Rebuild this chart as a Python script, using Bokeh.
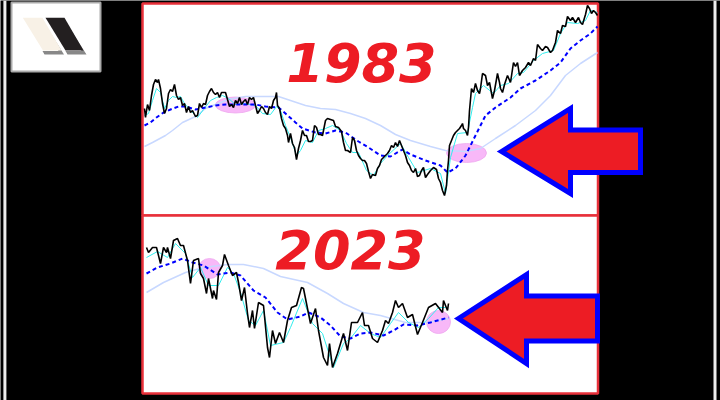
from bokeh.plotting import figure
from bokeh.embed import file_html
from bokeh.resources import INLINE
from bokeh.core.properties import value

# top panel series
top_price_x = [144,145,147,149,151,153,155,157,158,160,162,164,166,168,170,172,174,176,178,180,182,184,186,188,190,192,195,197,199,201,203,205,207,209,211,213,215,217,219,221,223,225,227,229,231,233,235,237,239,241,243,245,247,249,251,253,255,257,259,261,263,265,267,269,271,273,275,276,277,279,281,283,285,287,288,290,292,294,296,298,300,302,304,306,308,310,312,314,316,318,320,322,325,327,330,333,335,338,341,343,345,347,350,352,354,356,358,360,362,364,366,368,370,372,375,377,379,381,383,385,387,389,391,393,395,397,399,401,403,405,407,409,411,413,415,417,419,421,423,425,427,430,433,436,438,440,442,444,446,447,448,449,451,453,455,457,459,461,462,463,465,467,468,469,471,473,475,477,479,480,482,485,487,489,492,494,497,499,500,502,504,507,510,513,515,517,519,522,525,528,530,533,535,537,540,542,545,547,550,552,555,557,560,562,565,567,570,572,575,578,580,582,585,587,589,591,593,595,597]
top_price_y = [108,117,104,110,95,84,79,82,79,88,103,113,108,93,89,91,84,95,99,97,105,103,112,106,112,110,116,115,103,107,103,104,95,91,88,92,94,92,97,92,92,92,99,106,104,107,100,103,97,104,101,99,104,97,99,97,105,113,110,106,108,112,114,106,108,100,97,92,105,108,118,125,128,135,142,133,143,147,159,148,140,130,135,135,141,141,140,125,127,134,134,135,120,118,119,120,126,127,131,142,150,150,152,137,140,150,155,158,160,160,163,171,178,174,175,168,165,159,157,155,153,150,145,147,142,146,140,145,150,155,162,165,170,172,168,176,175,170,167,177,174,170,167,169,178,182,190,195,185,170,160,145,140,135,132,130,128,125,123,128,130,135,127,110,88,92,83,90,93,88,73,75,85,82,98,90,73,82,88,92,84,75,82,62,66,62,75,70,67,62,65,58,60,44,48,50,46,47,52,50,42,30,33,25,26,16,20,17,22,17,22,24,14,5,8,13,10,12,15]
top_fast_x = [144,148,152,156,160,164,168,172,176,180,184,190,197,203,210,216,222,228,235,245,255,262,270,276,280,285,290,296,300,305,312,318,325,332,340,346,352,358,366,373,380,387,400,408,417,430,440,445,450,457,467,472,475,483,493,500,508,517,523,533,542,553,560,567,577,585,590,597]
top_fast_y = [115,113,100,88,92,108,100,96,97,96,103,110,117,109,100,97,95,98,104,103,105,113,114,106,110,125,137,155,150,140,142,130,128,125,130,143,152,152,170,175,163,155,143,157,172,168,173,193,157,133,132,107,93,85,93,85,83,73,72,60,53,50,33,22,23,20,10,12]
top_mid_x = [144,150,156,163,170,178,185,195,205,215,225,240,255,265,278,285,295,302,315,325,335,345,358,368,380,390,402,410,425,440,447,455,465,475,485,495,510,520,535,550,560,570,580,590,597]
top_mid_y = [125,122,117,112,109,106,106,109,107,105,104,104,104,106,107,113,122,128,132,133,130,132,141,147,155,156,149,154,160,165,172,168,155,135,115,107,97,88,80,70,62,48,40,33,26]
top_slow_x = [144,152,165,172,182,195,205,215,228,245,265,278,290,305,320,335,350,365,380,395,410,430,445,465,480,495,515,535,550,565,580,597]
top_slow_y = [146,142,135,130,122,116,108,104,99,96,96,96,100,105,108,109,113,118,125,134,140,146,150,151,148,138,125,110,95,75,63,52]

# bottom panel series
bot_price_x = [146,148,152,156,160,163,166,167,170,173,177,180,183,187,190,193,198,200,203,206,208,212,213,216,218,222,224,228,232,236,238,241,244,247,249,252,254,258,263,267,269,272,275,279,283,287,291,296,301,303,306,310,315,318,323,327,329,332,337,343,347,351,357,362,364,368,372,377,382,385,388,392,395,398,402,407,412,417,422,428,435,442,443,447,448]
bot_price_y = [247,252,247,247,263,247,252,247,258,240,238,245,245,260,283,260,258,273,278,293,278,298,290,299,272,265,254,265,275,272,282,300,287,313,327,310,328,302,305,347,357,330,343,332,342,320,307,305,287,288,303,323,308,330,357,365,343,367,353,333,350,322,322,312,325,325,338,342,330,320,323,312,300,307,303,317,314,334,322,307,303,312,300,310,303]
bot_fast_x = [146,157,167,175,185,192,200,208,218,227,233,240,248,255,263,270,283,290,302,312,322,333,343,350,360,370,380,390,398,408,418,428,438,445]
bot_fast_y = [257,251,257,243,253,277,267,285,285,267,273,292,320,325,310,345,342,327,298,323,333,367,343,338,325,333,337,323,312,322,327,318,307,307]
bot_mid_x = [146,157,170,182,192,203,217,230,240,253,265,277,287,300,308,320,330,340,350,360,370,383,393,403,417,430,448]
bot_mid_y = [273,267,263,258,262,265,274,272,275,290,297,312,319,316,312,317,325,336,338,333,332,335,330,324,325,322,317]
bot_slow_x = [146,163,185,203,227,243,263,280,307,327,343,363,380,405,427,448]
bot_slow_y = [292,282,272,267,264,264,268,276,282,293,303,312,315,322,322,318]

titles = ["1983", "2023"]

p = figure(width=720, height=400, x_range=(0, 720), y_range=(400, 0),
           output_backend="svg", toolbar_location=None, min_border=0,
           background_fill_color="black", border_fill_color="black",
           outline_line_color=None)
p.xaxis.visible = False
p.yaxis.visible = False
p.grid.visible = False

RED = "#ED1C24"
BLUE = "#0000FF"
BORDER = "#E8303A"

# frame lines
p.segment([4.4, 714.5], [0, 0], [4.4, 714.5], [400, 400], line_color="#EEEEEE", line_width=3)

# logo
p.quad(left=[11], right=[100], top=[2], bottom=[71], fill_color="white", line_color="#AAAAAA", line_width=2)
p.patch([43.5, 63.5, 44, 42, 58], [22, 54, 54, 50.5, 50.5], fill_color="#888888", line_color=None)
p.patch([65, 86, 67, 65, 81], [21, 54, 54, 50.5, 50.5], fill_color="#888888", line_color=None)
p.patch([22.3, 42, 61, 42.5], [17.3, 17.3, 50, 50], fill_color="#F8F1E6", line_color=None)
p.patch([45, 64, 83, 65], [17.3, 17.3, 50, 50], fill_color="#231F20", line_color=None)

# panels
p.quad(left=[142, 142], right=[597.5, 597.5], top=[3, 215], bottom=[215, 393],
       fill_color="white", line_color=BORDER, line_width=2.5)

# highlights
p.ellipse(x=[235, 466, 209, 438], y=[104.5, 152.5, 268, 321.5],
          width=[40, 40, 22, 24], height=[16, 19, 20, 23],
          fill_color="#F8B8F8", line_color="#EFA8EF", line_width=0.8)

# series
for x, y in [(top_slow_x, top_slow_y), (bot_slow_x, bot_slow_y)]:
    p.line(x, y, line_color="#C8D8FF", line_width=1.5)
for x, y in [(top_fast_x, top_fast_y), (bot_fast_x, bot_fast_y)]:
    p.line(x, y, line_color="#30EEEE", line_width=1)
for x, y in [(top_mid_x, top_mid_y), (bot_mid_x, bot_mid_y)]:
    p.line(x, y, line_color=BLUE, line_width=2, line_dash="4 3")
for x, y in [(top_price_x, top_price_y), (bot_price_x, bot_price_y)]:
    p.line(x, y, line_color="black", line_width=1.6)

# arrows
p.patch([501, 570, 570, 640, 640, 570, 570], [151, 108, 129.5, 129.5, 172, 172, 193],
        fill_color=RED, line_color=BLUE, line_width=5, line_join="miter")
p.patch([458, 526, 526, 597, 597, 526, 526], [318, 274, 295.5, 295.5, 340.5, 340.5, 363],
        fill_color=RED, line_color=BLUE, line_width=5, line_join="miter")

# titles
p.text(x=[361, 350], y=[62, 248.5], text=titles, text_color=RED,
       text_font=value("DejaVu Sans"), text_font_style="bold italic",
       text_font_size="54px", text_align="center", text_baseline="middle")

open("out.html", "w").write(file_html(p, INLINE))
